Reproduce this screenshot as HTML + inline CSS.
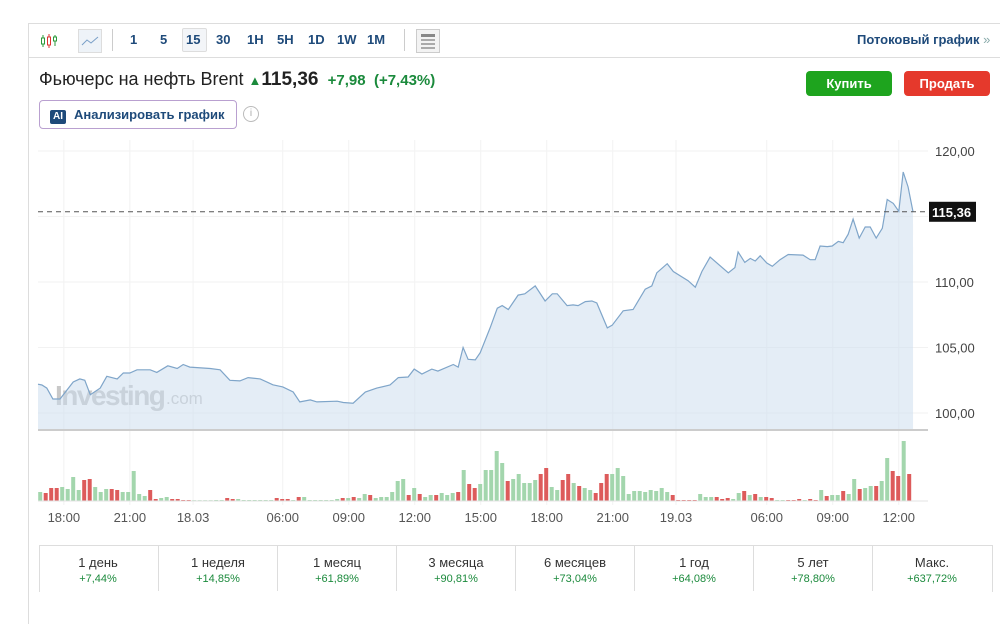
<!DOCTYPE html>
<html><head><meta charset="utf-8"><style>
body{margin:0;width:1000px;height:591px;overflow:hidden;background:#fff;font-family:"Liberation Sans","DejaVu Sans",sans-serif;position:relative}
.abs{position:absolute}
.tb{position:absolute;top:32px;font-size:13px;font-weight:bold;color:#1e4a7a}
.btn{position:absolute;top:71px;height:25px;border-radius:4px;color:#fff;font-weight:bold;font-size:13px;text-align:center;line-height:25px}
.cell{position:absolute;top:545px;width:118px;height:46px;border-left:1px solid #ddd;text-align:center}
.cell .a{font-size:13px;color:#333;margin-top:10px}
.cell .b{font-size:11px;color:#1b8a3c;margin-top:3px}
</style></head><body>
<div class="abs" style="left:28px;top:23px;width:980px;height:600px;border-left:1px solid #ddd;border-top:1px solid #ddd"></div>
<div class="abs" style="left:28px;top:57px;width:972px;height:1px;background:#ddd"></div>
<svg class="abs" style="left:40px;top:32px" width="18" height="18" viewBox="0 0 18 18"><line x1="3" y1="3" x2="3" y2="15" stroke="#2a9a3a"/><rect x="1.5" y="6" width="3" height="6" fill="#fff" stroke="#2a9a3a"/><line x1="9" y1="2" x2="9" y2="16" stroke="#d33"/><rect x="7.5" y="5" width="3" height="8" fill="#fff" stroke="#d33"/><line x1="15" y1="3" x2="15" y2="14" stroke="#2a9a3a"/><rect x="13.5" y="5" width="3" height="4" fill="#fff" stroke="#2a9a3a"/></svg>
<div class="abs" style="left:78px;top:29px;width:22px;height:22px;border:1px solid #ddd;background:#eef3f8"><svg width="22" height="22"><path d="M3 15 L8 10 L12 13 L19 7" stroke="#7aa0c8" fill="none"/></svg></div>
<div class="abs" style="left:112px;top:29px;width:1px;height:22px;background:#ccc"></div>
<div class="tb" style="left:130px">1</div>
<div class="tb" style="left:160px">5</div>
<div class="abs" style="left:182px;top:28px;width:23px;height:22px;border:1px solid #ddd;background:#f3f5f8;border-radius:2px"></div>
<div class="tb" style="left:186px">15</div>
<div class="tb" style="left:216px">30</div>
<div class="tb" style="left:247px">1H</div>
<div class="tb" style="left:277px">5H</div>
<div class="tb" style="left:308px">1D</div>
<div class="tb" style="left:337px">1W</div>
<div class="tb" style="left:367px">1M</div>
<div class="abs" style="left:404px;top:29px;width:1px;height:22px;background:#ccc"></div>
<div class="abs" style="left:416px;top:29px;width:22px;height:22px;border:1px solid #ccc;background:#f3f3f3"><div style="margin:4px 4px 2px;height:3px;background:#888"></div><div style="margin:0 4px;height:2px;background:#aaa"></div><div style="margin:2px 4px;height:2px;background:#aaa"></div><div style="margin:0 4px;height:2px;background:#aaa"></div></div>
<div class="tb" style="left:857px">Потоковый график <span style="color:#8aa;font-weight:normal">»</span></div>
<div class="abs" style="left:39px;top:69px;font-size:18px;color:#222">Фьючерс на нефть Brent <span style="color:#1b8a3c;font-size:13px">&#9650;</span><b style="font-size:19px">115,36</b> <span style="color:#1b8a3c;font-size:15px;font-weight:bold">&nbsp;+7,98 &nbsp;(+7,43%)</span></div>
<div class="btn" style="left:806px;width:86px;background:#1ea41e">Купить</div>
<div class="btn" style="left:904px;width:86px;background:#e5392c">Продать</div>
<div class="abs" style="left:39px;top:100px;width:196px;height:27px;border:1px solid #b9a0d0;border-radius:4px;font-size:13px;font-weight:bold;color:#1e4a7a;line-height:27px"><span style="display:inline-block;background:#1e4a7a;color:#fff;font-size:10px;line-height:14px;padding:0 3px;margin:0 8px 0 10px;border-radius:2px">AI</span>Анализировать график</div>
<div class="abs" style="left:243px;top:106px;width:14px;height:14px;border:1px solid #bbb;border-radius:50%;font-size:10px;color:#aaa;text-align:center;line-height:14px">i</div>
<svg id="chart" class="abs" style="left:0;top:0" width="1000" height="591"></svg>
<div class="abs" style="left:39px;top:545px;width:952px;height:46px;border:1px solid #ddd;border-bottom:none"></div>
<div id="cells"></div>
<script>
const timeLabels=["18:00","21:00","18.03","06:00","09:00","12:00","15:00","18:00","21:00","19.03","06:00","09:00","12:00"];
const timeSlots=[4.7,16.7,28.2,44.5,56.5,68.5,80.5,92.5,104.5,116,132.5,144.5,156.5];
const priceTicks=[100,105,110,120];
const priceSlots=[0,0.7,1.6,2.7,4,6.4,7.6,8.5,9.5,11.3,12.5,14.4,15.5,16.7,18,20.4,21.6,23.6,25.3,26.4,27.6,31.3,33.1,34.9,36.7,38.2,40.4,42.7,44.5,46.4,47.6,49.5,50.7,54.4,55.5,57.3,59.5,61.6,64,65.5,67.3,68.4,69.8,71.6,72.7,75.5,76.4,77.3,78.2,79.5,80.4,82.2,83.5,84.4,85.5,87.3,88.5,90.4,92.2,93.5,94.4,96.2,97.3,98.2,99.5,100.7,101.6,103.5,104.4,106.4,108.2,110.4,111.6,112.5,114.4,115.5,118.2,119.5,120.7,122.2,125.5,126.7,127.3,128.5,129.5,130.4,131.3,132.5,133.5,134.9,136.4,139.1,140.4,141.3,142.2,143.5,144.4,145.5,146.4,147.3,148.2,149.3,150.4,151.3,152.4,153.5,154.4,155.5,156.5,157.3,158.2,159.1];
const prices=[102.2,102.14,101.9,101.07,101.07,102.37,102.6,102.5,101.4,101.9,102.8,102.6,103.05,103.05,103.3,103.3,103.1,103.6,103.4,103.7,103.5,103.4,103.3,102.5,102.45,102.7,102.6,102.15,101.99,101.6,100.85,101,100.85,100.9,100.8,100.75,101.6,101.9,102.14,102.7,102.75,103.35,102.98,103.35,103.2,103.7,103.5,105.0,104.1,104.05,104.6,106.5,108.0,108.2,107.9,109.0,109.1,109.7,108.55,109.1,109.1,108.2,108.25,108.2,108.5,108.55,108.4,106.5,106.7,107.8,107.9,109.45,109.7,110.7,111.4,110.8,110.1,109.6,110.8,111.9,110.7,111.1,112.3,111.5,111.8,111.6,112.0,111.45,111.2,111.7,112.1,112.05,111.7,111.7,112.75,112.7,112.75,113.1,113.0,113.65,114.8,113.35,114.2,114.2,113.35,114.1,116.3,116.0,115.4,118.4,117.25,115.36];
const lastPrice=115.36;
const volumes=[9,8,13,13,14,12,24,11,21,22,14,9,12,12,11,9,9,30,7,5,11,2,3,4,2,2,1,1,0,0,0,0,1,1,3,2,2,1,1,1,1,1,1,3,2,2,1,4,4,1,1,1,1,1,2,3,3,4,3,7,6,3,4,4,9,20,22,6,13,7,4,6,6,8,6,8,9,31,17,13,17,31,31,50,38,20,22,27,18,18,21,27,33,14,11,21,27,18,15,13,11,8,18,27,27,33,25,7,10,10,9,11,10,13,9,6,1,1,1,1,7,4,4,4,2,3,2,8,10,6,7,4,4,3,1,1,1,1,2,1,2,1,11,5,6,6,10,7,22,12,13,15,15,20,43,30,25,60,27];
const volDir=["GRRRGGGGRRGGGRRGGGGGRRGGRRRR","GGGG",
"GGRRGGGGGG","GRRRGRGGGG","GGGRGRGGRG","GGGGGRGRGG","RGGGRGRRGG","GGGR",
"GGGGGRRGGR","RGRGGRRRGG","GGGGGGGGGR","RRRRGGGRRR","GGRGRGRRGG","RRRGRRGRGG","RGGRGGRGGR","RGR"].join('');
const NS="http://www.w3.org/2000/svg";
const svg=document.getElementById('chart');
const X=s=>38+s*5.5;
const Y=v=>413-(v-100)*13.1;
const VY=v=>501-v;
function el(t,a){const e=document.createElementNS(NS,t);for(const k in a)e.setAttribute(k,a[k]);svg.appendChild(e);return e;}
priceTicks.concat([115]).forEach(v=>{const g=el('line',{x1:38,x2:928,y1:Y(v),y2:Y(v),stroke:'#f2f2f2'});

});
timeSlots.forEach(s=>{const g=el('line',{x1:X(s),x2:X(s),y1:140,y2:505,stroke:'#f2f2f2'});

});
const wm=el('text',{x:55,y:405,'font-size':28,'font-weight':'bold',fill:'#c8c8c8','letter-spacing':'-1.5'});
wm.textContent='Investing';


const wm2=el('text',{x:166,y:404,'font-size':17,fill:'#c8c8c8'});wm2.textContent='.com';


let d='';priceSlots.forEach((s,i)=>{d+=(i?'L':'M')+X(s).toFixed(1)+' '+Y(prices[i]).toFixed(1)+' ';});
const last=priceSlots[priceSlots.length-1];
const area=el('path',{d:d+'L'+X(last)+' 430 L38 430 Z',fill:'#c9dcee','fill-opacity':0.5});


const line=el('path',{d:d,fill:'none',stroke:'#7fa5c9','stroke-width':1.2});


const base=el('line',{x1:38,x2:928,y1:430,y2:430,stroke:'#ccc','stroke-width':2});


const lp=el('line',{x1:38,x2:928,y1:Y(lastPrice),y2:Y(lastPrice),stroke:'#555','stroke-dasharray':'5,4'});


const lb=el('rect',{x:929,y:Y(lastPrice)-10,width:47,height:20,fill:'#111'});


const lt=el('text',{x:932,y:Y(lastPrice)+5,'font-size':13,'font-weight':'bold',fill:'#fff'});lt.textContent=lastPrice.toFixed(2).replace('.',',');


priceTicks.forEach(v=>{const t=el('text',{x:935,y:Y(v)+5,'font-size':13,fill:'#444'});t.textContent=v.toFixed(2).replace('.',',');

});
volumes.forEach((v,k)=>{const b=el('rect',{x:X(k)+0.2,y:VY(Math.max(v,0.8)),width:4,height:Math.max(v,0.8),fill:volDir[k]==='R'?'#dd5b5b':'#a3d6ad'});

});
const vb=el('line',{x1:38,x2:928,y1:501,y2:501,stroke:'#e3e3e3'});


timeLabels.forEach((l,i)=>{const t=el('text',{x:X(timeSlots[i]),y:522,'font-size':13,fill:'#555','text-anchor':'middle'});t.textContent=l;

});
const periods=["1 день","1 неделя","1 месяц","3 месяца","6 месяцев","1 год","5 лет","Макс."];
const changes=["+7,44%","+14,85%","+61,89%","+90,81%","+73,04%","+64,08%","+78,80%","+637,72%"];
const cells=document.getElementById('cells');
periods.forEach((p,i)=>{const c=document.createElement('div');c.className='cell';c.style.left=(39+i*119)+'px';
if(i===0)c.style.borderLeft='none';
c.innerHTML='<div class="a">'+p+'</div><div class="b">'+changes[i]+'</div>';


cells.appendChild(c);});
</script>
</body></html>
